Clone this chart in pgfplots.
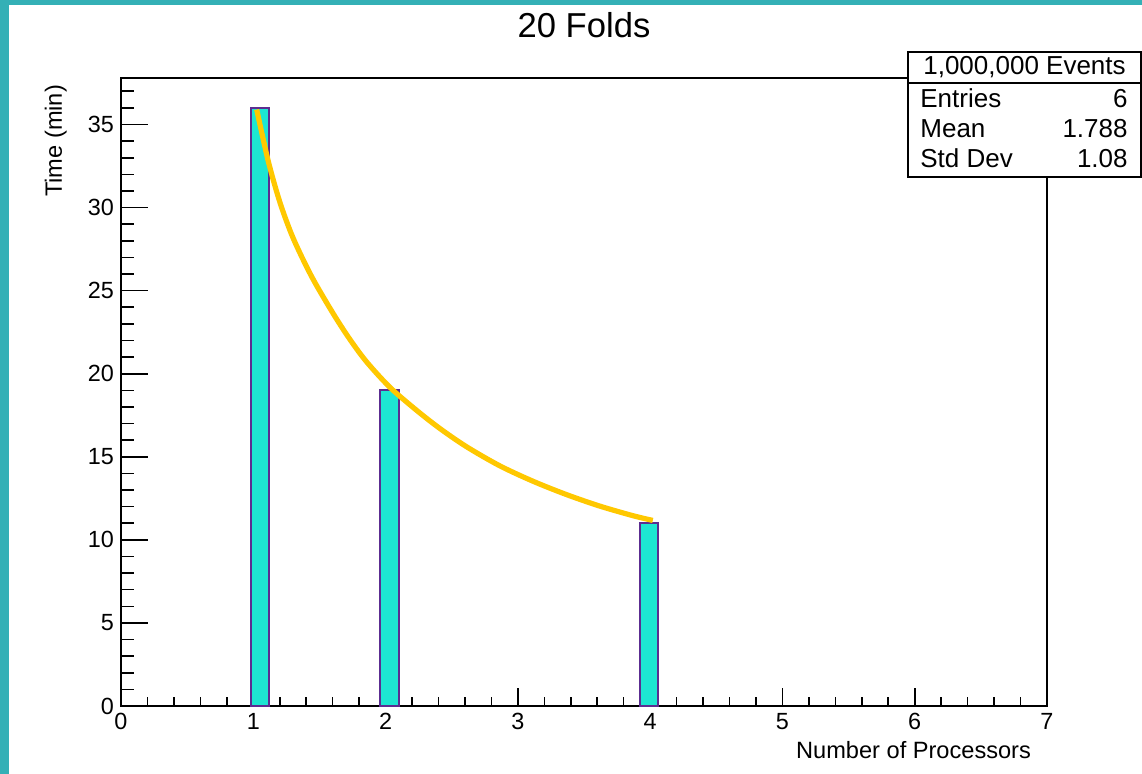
\documentclass[border=0pt]{standalone}
\usepackage{fontspec}
\setmainfont{Liberation Sans}
\usepackage{pgfplots}
\pgfplotsset{compat=1.18}
\definecolor{frameteal}{HTML}{34B0B6}
\definecolor{barfill}{HTML}{1DE6D2}
\definecolor{barline}{HTML}{5C2D91}
\definecolor{fitline}{HTML}{FFC800}

\begin{document}
\begin{tikzpicture}
% outer frame of the canvas
\fill[frameteal] (-60.5pt,-34pt) rectangle (510.5pt,353pt);
\fill[white] (-56pt,-34pt) rectangle (510.5pt,350.5pt);

\begin{axis}[at={(0,0)}, anchor=south west, scale only axis,
  width=463pt, height=314pt,
  xmin=0, xmax=7, ymin=0, ymax=37.8,
  xtick={0,1,...,7}, ytick={0,5,...,35},
  minor xtick={0.2,0.4,0.6,0.8,1.2,1.4,1.6,1.8,2.2,2.4,2.6,2.8,3.2,3.4,3.6,3.8,
    4.2,4.4,4.6,4.8,5.2,5.4,5.6,5.8,6.2,6.4,6.6,6.8},
  minor ytick={1,2,3,4,6,7,8,9,11,12,13,14,16,17,18,19,21,22,23,24,26,27,28,29,31,32,33,34,36,37},
  xtick pos=bottom, ytick pos=left, tick align=inside,
  axis line style={line width=0.8pt},
  tick style={black, line width=0.8pt},
  x tick style={/pgfplots/major tick length=9pt, /pgfplots/minor tick length=4.5pt},
  y tick style={/pgfplots/major tick length=13.5pt, /pgfplots/minor tick length=6.5pt},
  tick label style={font=\fontsize{11.7}{14}\selectfont},
  /pgf/number format/assume math mode=true,
  clip=false]
\addplot[ybar interval, fill=barfill, draw=barline, line width=1pt] coordinates {(0.98,36) (1.12,36)};
\addplot[ybar interval, fill=barfill, draw=barline, line width=1pt] coordinates {(1.96,19) (2.10,19)};
\addplot[ybar interval, fill=barfill, draw=barline, line width=1pt] coordinates {(3.92,11) (4.06,11)};
\addplot[fitline, line width=2.6pt, smooth, mark=none] coordinates {
  (1.026,35.9) (1.113,32.8) (1.202,30.3) (1.302,28.15) (1.441,25.85)
  (1.604,23.62) (1.731,22.06) (1.857,20.71) (2.033,19.18) (2.234,17.8)
  (2.411,16.7) (2.613,15.6) (2.865,14.45) (3.117,13.52) (3.369,12.72)
  (3.62,12.03) (3.872,11.45) (4.02,11.17)};
\end{axis}

% title and axis titles
\node[anchor=base, font=\fontsize{17.3}{20}\selectfont] at (231.5pt,334pt) {20 Folds};
\node[anchor=base east, font=\fontsize{11.8}{14}\selectfont] at (458.5pt,-26.5pt) {Number of Processors};
\node[anchor=base east, rotate=90, font=\fontsize{11.8}{14}\selectfont] at (-29.5pt,314pt) {Time (min)};

% statistics box
\filldraw[fill=white, draw=black, line width=0.7pt] (393.5pt,264.5pt) rectangle (510pt,327pt);
\draw[line width=0.7pt] (393.5pt,311.5pt) -- (510pt,311.5pt);
\begin{scope}[font=\fontsize{13}{15}\selectfont, inner sep=0pt]
\node[anchor=base] at (451.75pt,315.5pt) {1,000,000 Events};
\node[anchor=base west] at (399.5pt,299pt) {Entries};
\node[anchor=base east] at (503.5pt,299pt) {6};
\node[anchor=base west] at (399.5pt,284pt) {Mean};
\node[anchor=base east] at (503.5pt,284pt) {1.788};
\node[anchor=base west] at (399.5pt,269pt) {Std Dev};
\node[anchor=base east] at (503.5pt,269pt) {1.08};
\end{scope}
\end{tikzpicture}
\end{document}
